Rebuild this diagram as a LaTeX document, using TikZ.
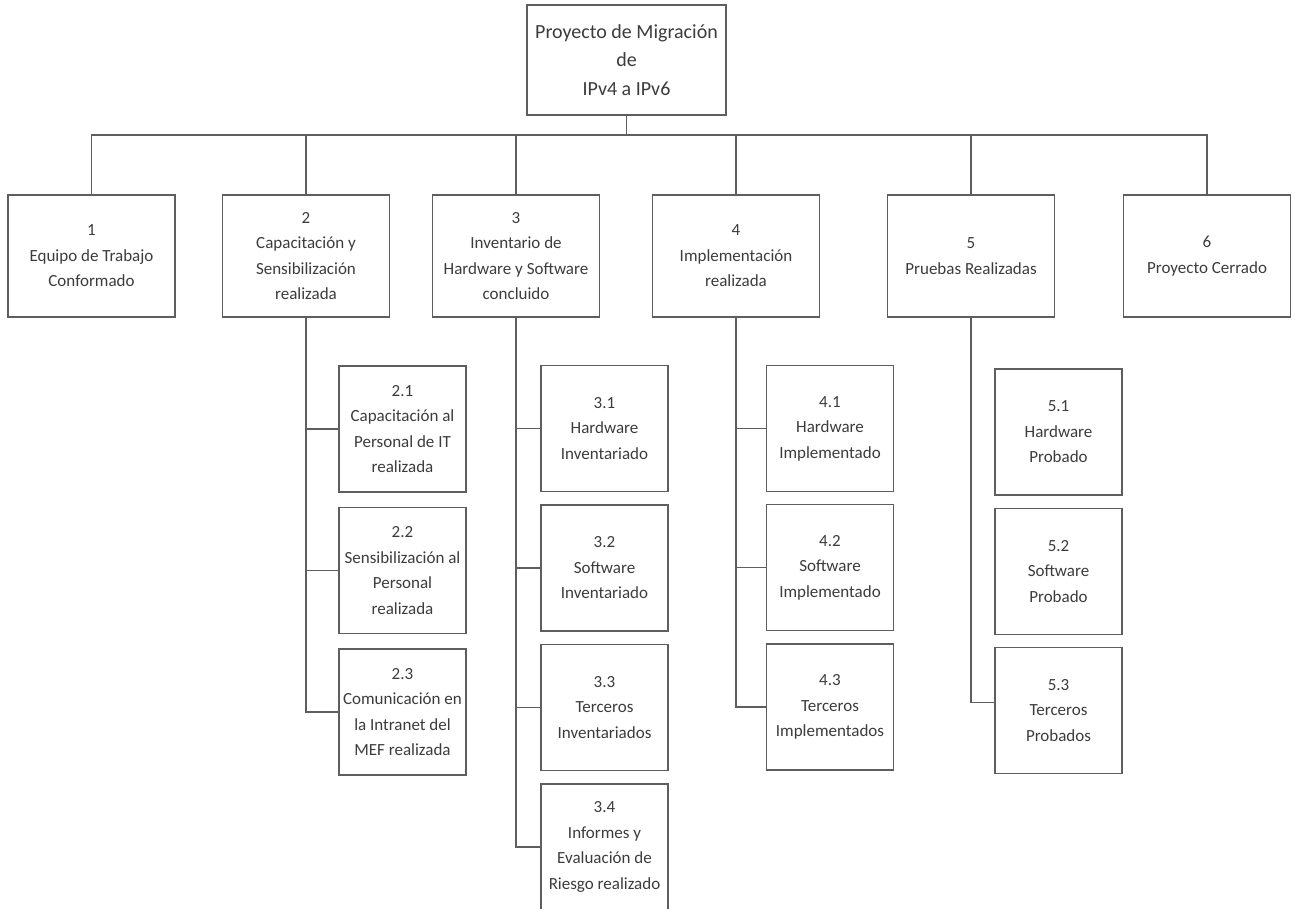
\documentclass[tikz,border=0pt]{standalone}
\usepackage{fontspec}
\setmainfont{Carlito}
\definecolor{txt}{HTML}{3C3C3C}
\definecolor{ln}{HTML}{5E5E5E}
\begin{document}
\begin{tikzpicture}[x=1pt,y=-1pt,
  box/.style={draw=ln,line width=1.5pt,text=txt,align=center,inner sep=2pt,
    font=\fontsize{17}{25.5}\selectfont},
  mainbox/.style={box,minimum width=167pt,minimum height=122pt},
  subbox/.style={box,minimum width=127pt,minimum height=126pt},
  topbox/.style={box,minimum width=199pt,minimum height=110pt,font=\fontsize{20}{28.5}\selectfont},
  conn/.style={draw=ln,line width=1.8pt}]
\clip (0,0) rectangle (1295,908);
\fill[white] (0,0) rectangle (1295,908);

\node[topbox] (top) at (626.5,60) {Proyecto de Migración\\de\\IPv4 a IPv6};

\node[mainbox] (b1) at (91.5,256) {1\\Equipo de Trabajo\\Conformado};
\node[mainbox] (b2) at (306,256) {2\\Capacitación y\\Sensibilización\\realizada};
\node[mainbox] (b3) at (516,256) {3\\Inventario de\\Hardware y Software\\concluido};
\node[mainbox] (b4) at (736,256) {4\\Implementación\\realizada};
\node[mainbox] (b5) at (971,256) {5\\Pruebas Realizadas};
\node[mainbox] (b6) at (1207,256) {6\\Proyecto Cerrado};

\node[subbox] (s21) at (402.5,429) {2.1\\Capacitación al\\Personal de IT\\realizada};
\node[subbox] (s22) at (402.5,570.5) {2.2\\Sensibilización al\\Personal\\realizada};
\node[subbox] (s23) at (402.5,712) {2.3\\Comunicación en\\la Intranet del\\MEF realizada};

\node[subbox] (s31) at (604.5,428.5) {3.1\\Hardware\\Inventariado};
\node[subbox] (s32) at (604.5,568) {3.2\\Software\\Inventariado};
\node[subbox] (s33) at (604.5,707.5) {3.3\\Terceros\\Inventariados};
\node[subbox] (s34) at (604.5,847) {3.4\\Informes y\\Evaluación de\\Riesgo realizado};

\node[subbox] (s41) at (830,428.5) {4.1\\Hardware\\Implementado};
\node[subbox] (s42) at (830,567.5) {4.2\\Software\\Implementado};
\node[subbox] (s43) at (830,707) {4.3\\Terceros\\Implementados};

\node[subbox] (s51) at (1058.5,432) {5.1\\Hardware\\Probado};
\node[subbox] (s52) at (1058.5,571.5) {5.2\\Software\\Probado};
\node[subbox] (s53) at (1058.5,710.5) {5.3\\Terceros\\Probados};

% top level connectors
\coordinate (bus) at (626.5,135);
\draw[conn] (top.south) -- (bus);
\draw[conn] (b1.north) |- (bus);
\draw[conn] (b6.north) |- (bus);
\foreach \b in {b2,b3,b4,b5} \draw[conn] (\b.north) |- (bus);

% column connectors
\foreach \s in {s21,s22,s23} \draw[conn] (b2.south) |- (\s.west);
\foreach \s in {s31,s32,s33,s34} \draw[conn] (b3.south) |- (\s.west);
\foreach \s in {s41,s42,s43} \draw[conn] (b4.south) |- (\s.west);
\draw[conn] (b5.south) |- ([yshift=8pt]s53.west);
\end{tikzpicture}
\end{document}
